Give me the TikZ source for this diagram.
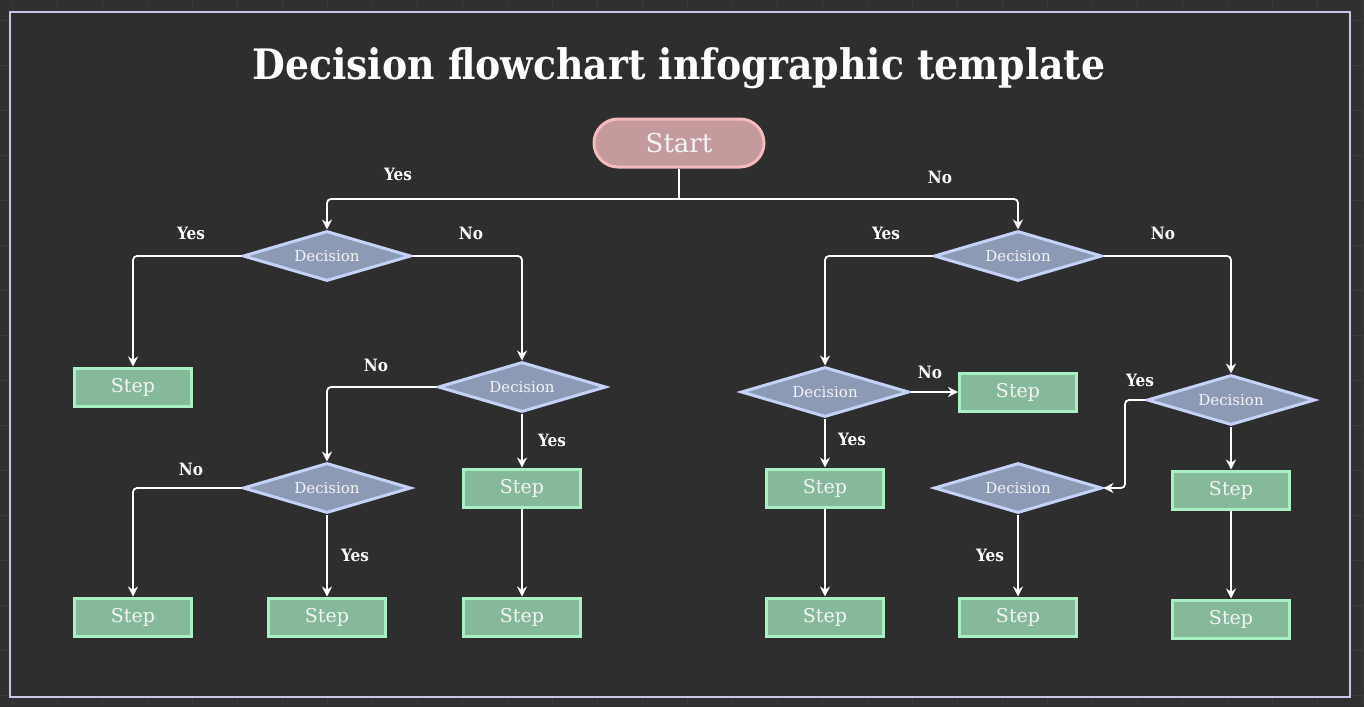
\documentclass[tikz,border=0pt]{standalone}
\usepackage{fontspec}
\setmainfont{DejaVu Serif}
\newfontfamily\condfont{DejaVu Serif Condensed}
\usetikzlibrary{shapes.geometric,arrows.meta}
\definecolor{bgin}{HTML}{2E2E2E}
\definecolor{bgout}{HTML}{303030}
\definecolor{gridc}{HTML}{3A3A3A}
\definecolor{frame}{HTML}{C9C6EA}
\definecolor{startfill}{HTML}{C49A9C}
\definecolor{startline}{HTML}{F4BABE}
\definecolor{decfill}{HTML}{8D9AB6}
\definecolor{decline}{HTML}{C3D2F6}
\definecolor{stepfill}{HTML}{86B99A}
\definecolor{stepline}{HTML}{A9EFC4}
\definecolor{txt}{HTML}{F4F4F4}
\tikzset{
  startbox/.style={rounded corners=24pt, draw=startline, fill=startfill, line width=3pt,
    minimum width=170pt, minimum height=48pt, text=txt, font=\fontsize{26}{29}\selectfont, inner sep=0pt},
  decbox/.style={diamond, shape aspect=3.3, draw=decline, fill=decfill, line width=3pt, minimum width=168pt,
    minimum height=50pt, inner sep=0pt, text=txt, font=\fontsize{15}{17}\selectfont},
  stepbox/.style={draw=stepline, fill=stepfill, line width=3pt, minimum width=117pt,
    minimum height=38pt, inner sep=0pt, text=txt, font=\fontsize{19}{21}\selectfont},
  conn/.style={draw=white, line width=1.8pt, rounded corners=4pt, -{Stealth[length=10pt,width=10pt]}},
  plain/.style={draw=white, line width=1.8pt, rounded corners=4pt},
  lbl/.style={text=white, font=\condfont\bfseries\fontsize{17}{19}\selectfont, inner sep=0pt}
}
\begin{document}
\begin{tikzpicture}[x=1pt,y=-1pt]
\useasboundingbox (0,0) rectangle (1364,707);
\fill[bgout] (0,0) rectangle (1364,707);
\foreach \gx in {12,57,...,1364} \draw[gridc, line width=1pt] (\gx,0) -- (\gx,707);
\foreach \gy in {20,65,...,707} \draw[gridc, line width=1pt] (0,\gy) -- (1364,\gy);
\draw[frame, line width=2pt, fill=bgin] (10,12) rectangle (1350,697);

\node[text=white, font=\condfont\bfseries\fontsize{42}{48}\selectfont] (title) at (679,68) {Decision flowchart infographic template};

\node[startbox] (start) at (679,143) {Start};

\node[decbox] (d1) at (327,256) {Decision};
\node[decbox] (d2) at (522,387) {Decision};
\node[decbox] (d3) at (327,488) {Decision};
\node[decbox] (d4) at (1018,256) {Decision};
\node[decbox] (d5) at (825,392) {Decision};
\node[decbox] (d6) at (1231,400) {Decision};
\node[decbox] (d7) at (1018,488) {Decision};

\node[stepbox] (s1) at (133,387) {Step};
\node[stepbox] (s2) at (133,617) {Step};
\node[stepbox] (s3) at (327,617) {Step};
\node[stepbox] (s4) at (522,488) {Step};
\node[stepbox] (s5) at (522,617) {Step};
\node[stepbox] (s6) at (1018,392) {Step};
\node[stepbox] (s7) at (825,488) {Step};
\node[stepbox] (s8) at (825,617) {Step};
\node[stepbox] (s9) at (1018,617) {Step};
\node[stepbox] (s10) at (1231,490) {Step};
\node[stepbox] (s11) at (1231,619) {Step};

\coordinate (j) at (679,199);
\draw[plain] (start.south) -- (j);
\draw[conn] (j) -| (d1.north);
\draw[conn] (j) -| (d4.north);

\draw[conn] (d1.west) -| (s1.north);
\draw[conn] (d1.east) -| (d2.north);
\draw[conn] (d2.west) -| (d3.north);
\draw[conn] (d2.south) -- (s4.north);
\draw[conn] (d3.west) -| (s2.north);
\draw[conn] (d3.south) -- (s3.north);
\draw[conn] (s4.south) -- (s5.north);

\draw[conn] (d4.west) -| (d5.north);
\draw[conn] (d4.east) -| (d6.north);
\draw[conn] (d5.east) -- (s6.west);
\draw[conn] (d5.south) -- (s7.north);
\draw[conn] (s7.south) -- (s8.north);
\coordinate (k) at (1125,400);
\draw[conn] (d6.west) -- (k) |- (d7.east);
\draw[conn] (d6.south) -- (s10.north);
\draw[conn] (s10.south) -- (s11.north);
\draw[conn] (d7.south) -- (s9.north);

\node[lbl] (l1) at (398,174) {Yes};
\node[lbl] (l2) at (940,177) {No};
\node[lbl] (l3) at (191,233) {Yes};
\node[lbl] (l4) at (471,233) {No};
\node[lbl] (l5) at (376,365) {No};
\node[lbl] (l6) at (552,440) {Yes};
\node[lbl] (l7) at (191,469) {No};
\node[lbl] (l8) at (355,555) {Yes};
\node[lbl] (l9) at (886,233) {Yes};
\node[lbl] (l10) at (1163,233) {No};
\node[lbl] (l11) at (930,372) {No};
\node[lbl] (l12) at (852,439) {Yes};
\node[lbl] (l13) at (1140,380) {Yes};
\node[lbl] (l14) at (990,555) {Yes};
\end{tikzpicture}
\end{document}
